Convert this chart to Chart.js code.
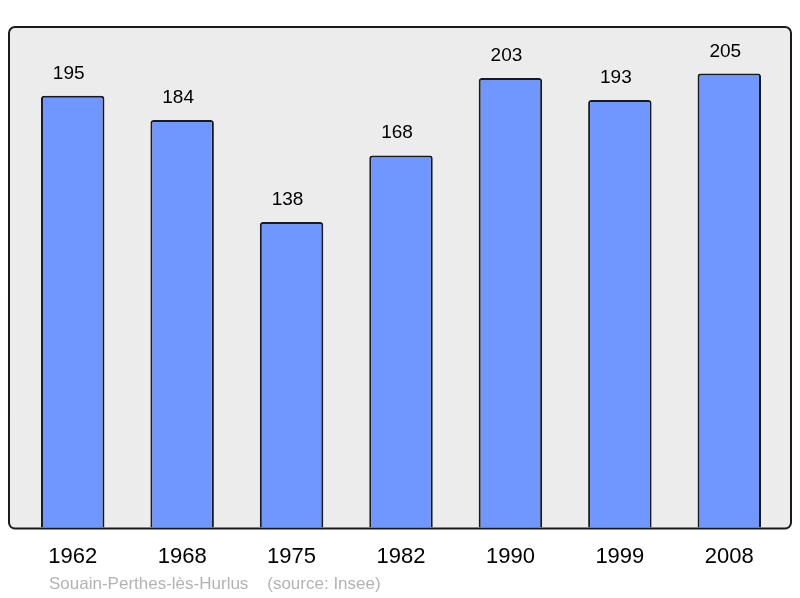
<!DOCTYPE html>
<html>
<head>
<meta charset="utf-8">
<script src="https://cdn.jsdelivr.net/npm/chart.js@4/dist/chart.umd.min.js"></script>
<style>
  body { margin: 0; background: #fff; }
</style>
</head>
<body>
<canvas id="popChart" width="800" height="598"></canvas>
<script>
// data
const years = ['1962', '1968', '1975', '1982', '1990', '1999', '2008'];
const population = [195, 184, 138, 168, 203, 193, 205];
const footerText = 'Souain-Perthes-lès-Hurlus    (source: Insee)';

const FONT = '"Liberation Sans", Arial, sans-serif';

// rounded frame + grey background behind the bars
const framePlugin = {
    id: 'frame',
    beforeDatasetsDraw(chart) {
        const ctx = chart.ctx;
        const a = chart.chartArea;
        ctx.save();
        ctx.beginPath();
        ctx.roundRect(a.left - 9, a.top, a.right - a.left + 16, a.bottom - a.top + 1, 6);
        ctx.fillStyle = '#ececec';
        ctx.fill();
        ctx.restore();
    },
    afterDatasetsDraw(chart) {
        const ctx = chart.ctx;
        const a = chart.chartArea;
        ctx.save();
        ctx.beginPath();
        ctx.roundRect(a.left - 9, a.top, a.right - a.left + 16, a.bottom - a.top + 1, 6);
        ctx.lineWidth = 2;
        ctx.strokeStyle = '#1a1a1a';
        ctx.stroke();

        // values above bars (sit a bit left of centre, like the original)
        const meta = chart.getDatasetMeta(0);
        ctx.fillStyle = '#000';
        ctx.font = '19px ' + FONT;
        ctx.textAlign = 'center';
        ctx.textBaseline = 'alphabetic';
        meta.data.forEach((bar, i) => {
            ctx.fillText(population[i], bar.x - 4, bar.y - 17);
        });

        // footer
        ctx.fillStyle = '#b3b3b3';
        ctx.font = '17px ' + FONT;
        ctx.textAlign = 'left';
        ctx.textBaseline = 'middle';
        ctx.fillText(footerText, 49, 584);
        ctx.restore();
    }
};

new Chart(document.getElementById('popChart'), {
    type: 'bar',
    data: {
        labels: years,
        datasets: [{
            data: population,
            backgroundColor: 'rgb(112, 150, 255)',
            borderColor: '#1a1a1a',
            borderWidth: 2,
            borderRadius: 3,
            borderSkipped: 'bottom',
            barPercentage: 0.58,
            categoryPercentage: 1
        }]
    },
    options: {
        responsive: false,
        animation: false,
        layout: {
            padding: { left: 18, right: 16, top: 27, bottom: 12 }
        },
        plugins: {
            legend: { display: false },
            tooltip: { enabled: false }
        },
        scales: {
            x: {
                grid: { display: false, drawTicks: false },
                border: { display: false },
                ticks: {
                    color: '#000',
                    padding: 16,
                    font: { family: FONT, size: 22 }
                }
            },
            y: {
                display: false,
                min: 0,
                max: 226
            }
        }
    },
    plugins: [framePlugin]
});
</script>
</body>
</html>
